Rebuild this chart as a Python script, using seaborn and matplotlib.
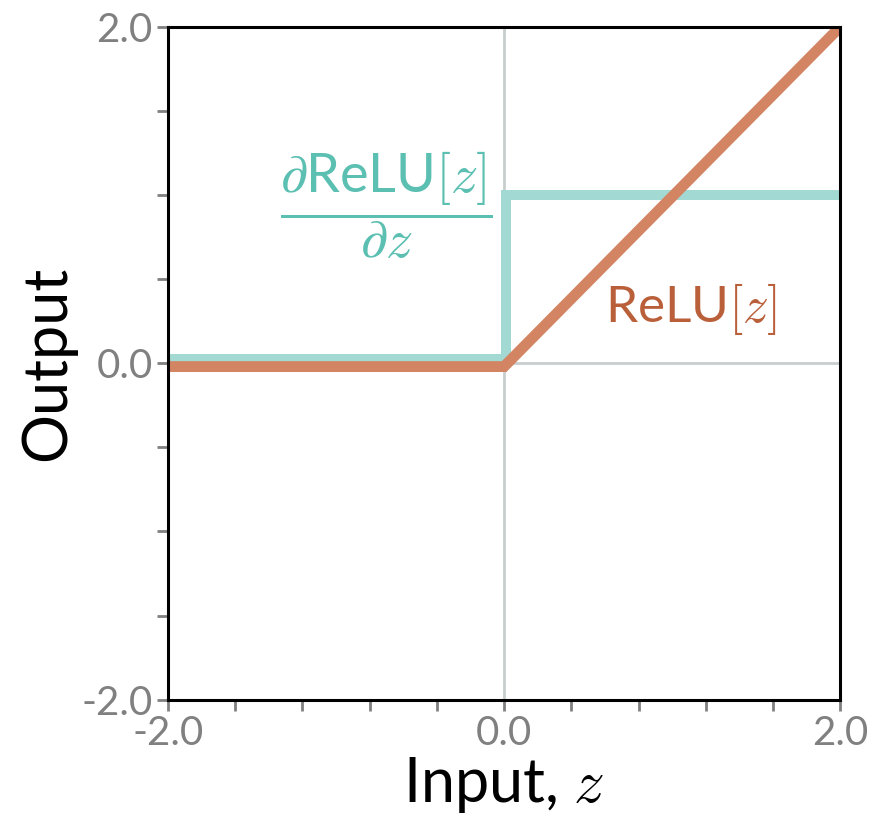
import matplotlib
matplotlib.use("Agg")
import matplotlib.pyplot as plt
import numpy as np
import seaborn as sns
from matplotlib.ticker import MultipleLocator

# ReLU and its derivative (small offsets keep both lines visible at zero)
relu_x = [-2.0, 0.0, 2.0]
relu_y = [-0.02, -0.02, 2.0]
grad_x = [-2.0, 0.01, 0.01, 2.0]
grad_y = [0.025, 0.025, 1.0, 1.0]

major_ticks = [-2.0, 0.0, 2.0]
tick_labels = ["-2.0", "0.0", "2.0"]

relu_color = "#D38462"
grad_color = "#A2DAD3"
relu_text = "#B9603B"
grad_text = "#5BBFB1"
tick_gray = "#808080"

sns.set_style("white")
plt.rcParams["font.family"] = ["Lato", "DejaVu Sans"]
plt.rcParams["mathtext.fontset"] = "custom"
plt.rcParams["mathtext.rm"] = "cmr10"
plt.rcParams["mathtext.it"] = "cmmi10"
plt.rcParams["mathtext.sf"] = "Lato"
plt.rcParams["mathtext.fallback"] = "cm"
plt.rcParams["axes.unicode_minus"] = False

fig = plt.figure(figsize=(8.79, 8.35), dpi=100)
ax = fig.add_axes([0.191, 0.162, 0.765, 0.806])

ax.axhline(0, color="#C8CECE", lw=2, zorder=0)
ax.axvline(0, color="#C8CECE", lw=2, zorder=0)

sns.lineplot(x=grad_x, y=grad_y, sort=False, estimator=None, color=grad_color, lw=7.2, ax=ax,
             solid_joinstyle="miter", solid_capstyle="butt")
sns.lineplot(x=relu_x, y=relu_y, sort=False, estimator=None, color=relu_color, lw=7.8, ax=ax,
             solid_joinstyle="miter", solid_capstyle="butt")

ax.set_xlim(-2, 2)
ax.set_ylim(-2, 2)
ax.set_xticks(major_ticks)
ax.set_xticklabels(tick_labels)
ax.set_yticks(major_ticks)
ax.set_yticklabels(tick_labels)
ax.xaxis.set_minor_locator(MultipleLocator(0.4))
ax.yaxis.set_minor_locator(MultipleLocator(0.5))
ax.tick_params(which="both", direction="out", length=8, width=2, color=tick_gray,
               bottom=True, left=True, labelsize=29, labelcolor=tick_gray, pad=3)

for s in ax.spines.values():
    s.set_color("black")
    s.set_linewidth(2.2)

ax.set_xlabel("Input, $z$", fontsize=44, labelpad=2, color="black")
ax.set_ylabel("Output", fontsize=44, labelpad=4, color="black")

ax.text(-0.70, 0.94, r"$\dfrac{\partial\mathsf{ReLU}[z]}{\partial z}$", color=grad_text,
        fontsize=39, ha="center", va="center")
ax.text(1.11, 0.32, "ReLU$[z]$", color=relu_text, fontsize=37, ha="center", va="center")

fig.savefig("out.png", dpi=100)
